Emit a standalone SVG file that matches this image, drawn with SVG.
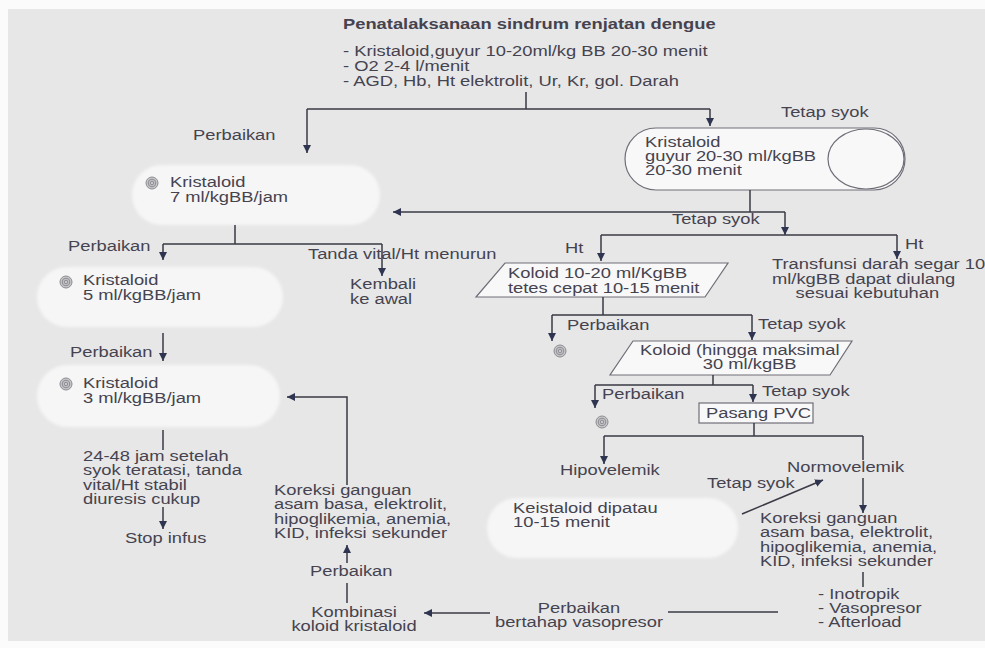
<svg xmlns="http://www.w3.org/2000/svg" width="985" height="648" viewBox="0 0 985 648">
<style>
.t{font-family:"Liberation Sans",Arial,Helvetica,sans-serif;font-size:14px;fill:#45434f}
.b{font-weight:bold}
.ln{fill:none;stroke:#3a3a46;stroke-width:1.5}
.ar{fill:none;stroke:#3a3a46;stroke-width:1.5;marker-end:url(#ah)}
.soft{fill:#f6f6f6;filter:url(#blur)}
.box{fill:#f8f8f8;stroke:#6e6e78;stroke-width:1.2}
.ic1{fill:#c9c9cc;stroke:#8a8a90;stroke-width:1}
.ic2{fill:none;stroke:#8a8a90;stroke-width:1}
</style>
<defs>
<marker id="ah" viewBox="0 0 8 8" refX="8" refY="4" markerWidth="8" markerHeight="8" markerUnits="userSpaceOnUse" orient="auto">
<path d="M0,0 L8,4 L0,8 z" fill="#2f3550"/>
</marker>
<filter id="blur" x="-10%" y="-20%" width="120%" height="140%"><feGaussianBlur stdDeviation="1.5"/></filter>
<g id="icon"><circle r="6" class="ic1"/><circle r="3.8" class="ic2"/><circle r="1.8" class="ic2"/></g>
</defs>
<rect width="985" height="648" fill="#fbfbfb"/>
<rect x="8" y="9" width="977" height="632" fill="#e7e7e7"/>

<g id="title">
<text class="t b" transform="translate(343,29) scale(1.31,1)">Penatalaksanaan sindrum renjatan dengue</text>
<text class="t" transform="translate(343,56) scale(1.31,1)">- Kristaloid,guyur 10-20ml/kg BB 20-30 menit<tspan x="0" dy="15">- O2 2-4 l/menit</tspan><tspan x="0" dy="15">- AGD, Hb, Ht elektrolit, Ur, Kr, gol. Darah</tspan></text>
</g>

<g id="n-guyur">
<rect x="625" y="128" width="280" height="62" rx="31" class="box"/>
<ellipse cx="866" cy="159" rx="38" ry="30" class="box"/>
<text class="t" transform="translate(645,147) scale(1.31,1)">Kristaloid<tspan x="0" dy="14">guyur 20-30 ml/kgBB</tspan><tspan x="0" dy="14">20-30 menit</tspan></text>
</g>

<g id="n-k7">
<rect x="132" y="165" width="248" height="60" rx="30" class="soft"/>
<use href="#icon" x="152" y="183"/>
<text class="t" transform="translate(170,187) scale(1.31,1)">Kristaloid<tspan x="0" dy="15">7 ml/kgBB/jam</tspan></text>
</g>

<g id="n-k5">
<rect x="37" y="267" width="246" height="60" rx="30" class="soft"/>
<use href="#icon" x="66" y="282"/>
<text class="t" transform="translate(83,285) scale(1.31,1)">Kristaloid<tspan x="0" dy="15">5 ml/kgBB/jam</tspan></text>
</g>

<g id="n-kembali">
<text class="t" transform="translate(350,289) scale(1.31,1)">Kembali<tspan x="0" dy="15">ke awal</tspan></text>
</g>

<g id="n-k3">
<rect x="37" y="365" width="243" height="62" rx="31" class="soft"/>
<use href="#icon" x="66" y="384"/>
<text class="t" transform="translate(83,388) scale(1.31,1)">Kristaloid<tspan x="0" dy="15">3 ml/kgBB/jam</tspan></text>
</g>

<g id="n-stabil">
<text class="t" transform="translate(83,461) scale(1.31,1)">24-48 jam setelah<tspan x="0" dy="14.5">syok teratasi, tanda</tspan><tspan x="0" dy="14.5">vital/Ht stabil</tspan><tspan x="0" dy="14.5">diuresis cukup</tspan></text>
</g>

<g id="n-stop">
<text class="t" transform="translate(125,543) scale(1.31,1)">Stop infus</text>
</g>

<g id="n-koreksi1">
<text class="t" transform="translate(274,495) scale(1.31,1)">Koreksi ganguan<tspan x="0" dy="14.5">asam basa, elektrolit,</tspan><tspan x="0" dy="14.5">hipoglikemia, anemia,</tspan><tspan x="0" dy="14.5">KID, infeksi sekunder</tspan></text>
</g>

<g id="n-kombinasi">
<text class="t" text-anchor="middle" transform="translate(354,617) scale(1.31,1)">Kombinasi<tspan x="0" dy="14.5">koloid kristaloid</tspan></text>
</g>

<g id="n-koloid1">
<polygon points="505,263 728,263 705,297 476,297" class="box"/>
<text class="t" transform="translate(508,278) scale(1.31,1)">Koloid 10-20 ml/KgBB<tspan x="0" dy="15">tetes cepat 10-15 menit</tspan></text>
</g>

<g id="n-transfusi">
<text class="t" transform="translate(772,269) scale(1.31,1)">Transfunsi darah segar 10<tspan x="0" dy="15">ml/kgBB dapat diulang</tspan><tspan x="18" dy="14">sesuai kebutuhan</tspan></text>
</g>

<g id="n-icon1"><use href="#icon" x="560" y="351"/></g>

<g id="n-koloid2">
<polygon points="633,341 852,341 830,375 610,375" class="box"/>
<text class="t" transform="translate(640,355) scale(1.31,1)">Koloid (hingga maksimal<tspan x="48" dy="14">30 ml/kgBB</tspan></text>
</g>

<g id="n-icon2"><use href="#icon" x="602" y="422"/></g>

<g id="n-pvc">
<rect x="699" y="403" width="114" height="20" class="box"/>
<text class="t" transform="translate(706,418) scale(1.31,1)">Pasang PVC</text>
</g>

<g id="n-hipo">
<text class="t" transform="translate(560,475) scale(1.31,1)">Hipovelemik</text>
</g>

<g id="n-normo">
<text class="t" transform="translate(787,472) scale(1.31,1)">Normovelemik</text>
</g>

<g id="n-keistaloid">
<rect x="487" y="498" width="251" height="60" rx="30" class="soft"/>
<text class="t" transform="translate(513,513) scale(1.31,1)">Keistaloid dipatau<tspan x="0" dy="14">10-15 menit</tspan></text>
</g>

<g id="n-koreksi2">
<text class="t" transform="translate(760,523) scale(1.31,1)">Koreksi ganguan<tspan x="0" dy="14.5">asam basa, elektrolit,</tspan><tspan x="0" dy="14.5">hipoglikemia, anemia,</tspan><tspan x="0" dy="14.5">KID, infeksi sekunder</tspan></text>
</g>

<g id="n-inotropik">
<text class="t" transform="translate(818,599) scale(1.31,1)">- Inotropik<tspan x="0" dy="14">- Vasopresor</tspan><tspan x="0" dy="14">- Afterload</tspan></text>
</g>

<g id="n-bertahap">
<text class="t" text-anchor="middle" transform="translate(579,613) scale(1.31,1)">Perbaikan<tspan x="0" dy="14">bertahap vasopresor</tspan></text>
</g>

<g id="connectors">
<path class="ln" d="M526,92 V109 M307,109 H710"/>
<path class="ar" d="M307,109 V153"/>
<path class="ar" d="M710,109 V126"/>
<path class="ln" d="M750,190 V212"/>
<path class="ar" d="M785,212 H393"/>
<path class="ar" d="M785,212 V235"/>
<path class="ln" d="M601,235 H897"/>
<path class="ar" d="M601,235 V261"/>
<path class="ar" d="M897,235 V259"/>
<path class="ln" d="M235,225 V244 M163,244 H382"/>
<path class="ar" d="M163,244 V260"/>
<path class="ar" d="M382,244 V276"/>
<path class="ar" d="M163,333 V361"/>
<path class="ln" d="M163,430 V450"/>
<path class="ar" d="M163,507 V529"/>
<path class="ar" d="M347,485 V397 H287"/>
<path class="ar" d="M347,563 V545"/>
<path class="ln" d="M347,583 V603"/>
<path class="ar" d="M490,613 H424"/>
<path class="ln" d="M668,612 H778"/>
<path class="ln" d="M603,297 V315 M552,315 H752"/>
<path class="ar" d="M552,315 V341"/>
<path class="ar" d="M752,315 V340"/>
<path class="ln" d="M713,375 V385 M595,385 H753"/>
<path class="ar" d="M595,385 V408"/>
<path class="ar" d="M753,385 V402"/>
<path class="ln" d="M754,423 V436 M604,436 H863 M863,436 V460"/>
<path class="ar" d="M604,436 V464"/>
<path class="ar" d="M863,478 V513"/>
<path class="ar" d="M742,514 L823,480"/>
<path class="ln" d="M863,572 V587"/>
</g>

<g id="labels">
<text class="t" transform="translate(193,140) scale(1.31,1)">Perbaikan</text>
<text class="t" transform="translate(781,117) scale(1.31,1)">Tetap syok</text>
<text class="t" transform="translate(672,224) scale(1.31,1)">Tetap syok</text>
<text class="t" transform="translate(68,251) scale(1.31,1)">Perbaikan</text>
<text class="t" transform="translate(308,259) scale(1.31,1)">Tanda vital/Ht menurun</text>
<text class="t" transform="translate(70,357) scale(1.31,1)">Perbaikan</text>
<text class="t" transform="translate(565,253) scale(1.31,1)">Ht</text>
<text class="t" transform="translate(905,249) scale(1.31,1)">Ht</text>
<text class="t" transform="translate(567,330) scale(1.31,1)">Perbaikan</text>
<text class="t" transform="translate(758,329) scale(1.31,1)">Tetap syok</text>
<text class="t" transform="translate(602,399) scale(1.31,1)">Perbaikan</text>
<text class="t" transform="translate(762,396) scale(1.31,1)">Tetap syok</text>
<text class="t" transform="translate(707,488) scale(1.31,1)">Tetap syok</text>
<text class="t" transform="translate(310,576) scale(1.31,1)">Perbaikan</text>
</g>
</svg>
